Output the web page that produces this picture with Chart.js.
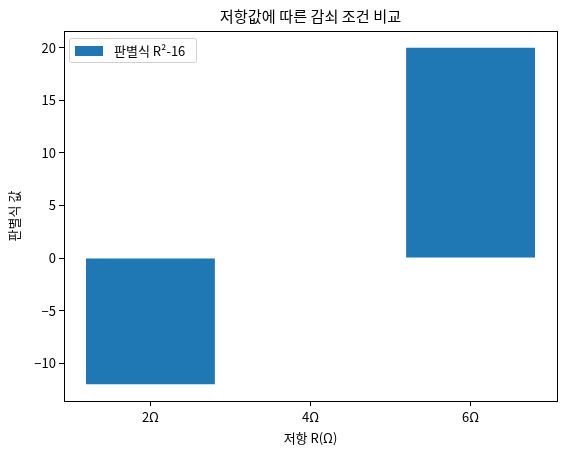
<!DOCTYPE html>
<html><head><meta charset="utf-8">
<script src="https://cdn.jsdelivr.net/npm/chart.js@4"></script>
<style>html,body{margin:0;padding:0;background:#fff}#wrap{width:568px;height:455px}</style>
</head><body><div id="wrap"><canvas id="c"></canvas></div>
<script>
const categories = ['2Ω', '4Ω', '6Ω'];
const values = [-12, 0, 20];
const yTicks = [-10, -5, 0, 5, 10, 15, 20];
const seriesLabel = '판별식 R²-16';
const titleText = '저항값에 따른 감쇠 조건 비교';
const xLabel = '저항 R(Ω)';
const yLabel = '판별식 값';

const FONT = "'Noto Sans CJK KR', 'Noto Sans', sans-serif";
Chart.defaults.font.family = FONT;
Chart.defaults.color = '#000';

const framePlugin = {
  id: 'frame',
  afterDraw(chart) {
    const {ctx, chartArea: a} = chart;
    ctx.save();
    ctx.strokeStyle = '#000';
    ctx.lineWidth = 1;
    ctx.strokeRect(Math.round(a.left) + 0.5, Math.round(a.top) + 0.5, Math.round(a.right - a.left), Math.round(a.bottom - a.top));
    ctx.fillStyle = '#000';
    ctx.font = "15.2px " + FONT;
    ctx.textAlign = 'center';
    ctx.textBaseline = 'middle';
    ctx.fillText(titleText, (a.left + a.right) / 2, 16);
    ctx.restore();
  },
  afterDatasetsDraw(chart) {
    const {ctx, chartArea: a} = chart;
    const x = a.left + 5, y = a.top + 7, w = 127, h = 24;
    ctx.save();
    ctx.fillStyle = 'rgba(255,255,255,0.8)';
    ctx.strokeStyle = '#d0d0d0';
    ctx.lineWidth = 1;
    ctx.beginPath();
    ctx.roundRect(x + 0.5, y + 0.5, w, h, 2);
    ctx.fill();
    ctx.stroke();
    ctx.fillStyle = '#1f77b4';
    ctx.fillRect(x + 6, y + 8, 28, 10);
    ctx.fillStyle = '#000';
    ctx.font = "13px " + FONT;
    ctx.textBaseline = 'middle';
    ctx.fillText(seriesLabel, x + 45, y + 13);
    ctx.restore();
  }
};

new Chart(document.getElementById('c'), {
  type: 'bar',
  data: {
    datasets: [{
      label: seriesLabel,
      data: values.map((v, i) => ({x: i, y: v})),
      backgroundColor: '#1f77b4',
      borderWidth: 0,
      inflateAmount: 0,
      barPercentage: 0.805,
      categoryPercentage: 1.0
    }]
  },
  options: {
    responsive: true,
    maintainAspectRatio: false,
    animation: false,
    layout: {padding: {left: 6, right: 11, top: 0, bottom: 9}},
    plugins: {
      legend: {display: false},
      tooltip: {enabled: false},
      title: {
        display: true,
        text: titleText,
        font: {size: 15, weight: 'normal'},
        padding: {top: 6, bottom: 7},
        color: 'rgba(0,0,0,0)'
      }
    },
    scales: {
      x: {
        type: 'linear',
        offset: false,
        min: -0.54,
        max: 2.54,
        afterBuildTicks(s) { s.ticks = categories.map((c, i) => ({value: i})); },
        afterFit(s) { s.height = 45; },
        ticks: {
          callback: (v) => categories[v],
          font: {size: 13},
          color: '#000',
          padding: 3,
          maxRotation: 0
        },
        grid: {offset: false, drawOnChartArea: false, tickLength: 5, tickColor: '#000'},
        border: {color: '#000'},
        title: {display: true, text: xLabel, font: {size: 13}, color: '#000', padding: {top: 2, bottom: 0}}
      },
      y: {
        min: -13.6,
        max: 21.6,
        afterBuildTicks(s) { s.ticks = yTicks.map(v => ({value: v})); },
        afterFit(s) { s.width = 58; },
        ticks: {
          callback: (v) => String(v).replace('-', '\u2212'),
          font: {size: 13},
          color: '#000',
          padding: 3
        },
        grid: {drawOnChartArea: false, tickLength: 5, tickColor: '#000'},
        border: {color: '#000'},
        title: {display: true, text: yLabel, font: {size: 13}, color: '#000', padding: {top: 0, bottom: 4}}
      }
    }
  },
  plugins: [framePlugin]
});
</script></body></html>
